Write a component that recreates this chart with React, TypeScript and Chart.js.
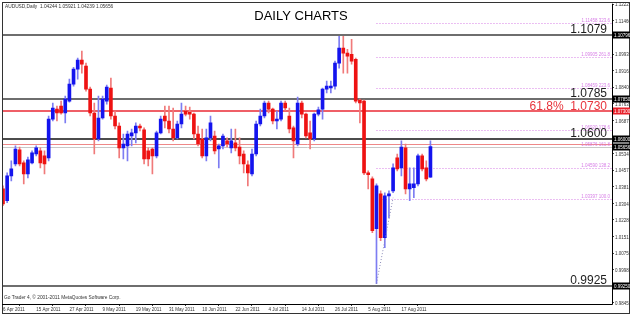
import React, { useEffect, useRef } from 'react';
import { Chart, registerables } from 'chart.js';

Chart.register(...registerables);

// ---------- data ----------
const opens = [
  1.0371, 1.0316, 1.0431, 1.0486, 1.0551, 1.0491, 1.0440, 1.0491, 1.0532, 1.0546,
  1.0523, 1.0514, 1.0693, 1.0739, 1.0753, 1.0721, 1.0776, 1.0854, 1.0923, 1.0965,
  1.0937, 1.0831, 1.0721, 1.0601, 1.0698, 1.0776, 1.0836, 1.0707, 1.0661, 1.0560,
  1.0569, 1.0615, 1.0629, 1.0661, 1.0643, 1.0546, 1.0555, 1.0523, 1.0629, 1.0707,
  1.0684, 1.0647, 1.0606, 1.0670, 1.0730, 1.0724, 1.0716, 1.0624, 1.0601, 1.0523,
  1.0606, 1.0615, 1.0555, 1.0569, 1.0592, 1.0560, 1.0583, 1.0564, 1.0532, 1.0482,
  1.0440, 1.0532, 1.0670, 1.0707, 1.0767, 1.0739, 1.0684, 1.0693, 1.0767, 1.0707,
  1.0652, 1.0578, 1.0767, 1.0716, 1.0629, 1.0601, 1.0716, 1.0739, 1.0831, 1.0836,
  1.0845, 1.0951, 1.1020, 1.0997, 1.0992, 1.0969, 1.0781, 1.0776, 1.0445, 1.0417,
  1.0187, 1.0348, 1.0146, 1.0339, 1.0362, 1.0514, 1.0468, 1.0560, 1.0371, 1.0376,
  1.0394, 1.0523, 1.0468, 1.04244,
];
const highs = [
  1.0385, 1.0445, 1.0500, 1.0569, 1.0564, 1.0500, 1.0518, 1.0546, 1.0569, 1.0560,
  1.0546, 1.0707, 1.0767, 1.0753, 1.0776, 1.0799, 1.0877, 1.0932, 1.0974, 1.1006,
  1.0951, 1.0840, 1.0767, 1.0799, 1.0799, 1.0850, 1.0882, 1.0730, 1.0675, 1.0624,
  1.0638, 1.0647, 1.0675, 1.0670, 1.0652, 1.0560, 1.0560, 1.0638, 1.0707, 1.0753,
  1.0753, 1.0744, 1.0684, 1.0767, 1.0753, 1.0748, 1.0721, 1.0661, 1.0647, 1.0647,
  1.0707, 1.0638, 1.0578, 1.0624, 1.0606, 1.0647, 1.0647, 1.0606, 1.0546, 1.0500,
  1.0555, 1.0684, 1.0739, 1.0776, 1.0776, 1.0744, 1.0730, 1.0776, 1.0776, 1.0744,
  1.0661, 1.0794, 1.0776, 1.0721, 1.0684, 1.0721, 1.0748, 1.0836, 1.0868, 1.0868,
  1.0960, 1.1075, 1.1075, 1.1015, 1.1061, 1.0974, 1.0785, 1.0781, 1.0454, 1.0426,
  1.0394, 1.0362, 1.0353, 1.0362, 1.0486, 1.0532, 1.0592, 1.0578, 1.0468, 1.0468,
  1.0532, 1.0532, 1.0500, 1.05921,
];
const lows = [
  1.0293, 1.0307, 1.0408, 1.0477, 1.0477, 1.0394, 1.0422, 1.0486, 1.0523, 1.0468,
  1.0440, 1.0500, 1.0684, 1.0684, 1.0716, 1.0675, 1.0771, 1.0845, 1.0877, 1.0905,
  1.0822, 1.0707, 1.0532, 1.0592, 1.0693, 1.0762, 1.0693, 1.0647, 1.0514, 1.0509,
  1.0500, 1.0569, 1.0583, 1.0638, 1.0486, 1.0477, 1.0440, 1.0514, 1.0624, 1.0652,
  1.0629, 1.0592, 1.0601, 1.0652, 1.0707, 1.0693, 1.0601, 1.0569, 1.0514, 1.0500,
  1.0592, 1.0532, 1.0468, 1.0555, 1.0564, 1.0537, 1.0546, 1.0486, 1.0445, 1.0385,
  1.0431, 1.0523, 1.0661, 1.0698, 1.0721, 1.0670, 1.0647, 1.0684, 1.0730, 1.0629,
  1.0514, 1.0569, 1.0698, 1.0606, 1.0555, 1.0592, 1.0707, 1.0693, 1.0813, 1.0813,
  1.0831, 1.0928, 1.0905, 1.0905, 1.0946, 1.0767, 1.0675, 1.0436, 1.0371, 1.0169,
  0.9934, 1.0132, 1.0100, 1.0238, 1.0353, 1.0454, 1.0431, 1.0348, 1.0316, 1.0330,
  1.0385, 1.0454, 1.0408, 1.04239,
];
const closes = [
  1.0302, 1.0431, 1.0463, 1.0555, 1.0486, 1.0440, 1.0505, 1.0537, 1.0560, 1.0491,
  1.0486, 1.0693, 1.0744, 1.0721, 1.0721, 1.0785, 1.0854, 1.0923, 1.0965, 1.0946,
  1.0831, 1.0721, 1.0601, 1.0698, 1.0785, 1.0840, 1.0707, 1.0661, 1.0560, 1.0578,
  1.0624, 1.0629, 1.0661, 1.0652, 1.0509, 1.0509, 1.0523, 1.0629, 1.0693, 1.0684,
  1.0647, 1.0606, 1.0670, 1.0716, 1.0716, 1.0716, 1.0624, 1.0578, 1.0523, 1.0606,
  1.0675, 1.0546, 1.0569, 1.0615, 1.0578, 1.0592, 1.0560, 1.0523, 1.0486, 1.0445,
  1.0532, 1.0670, 1.0707, 1.0767, 1.0739, 1.0684, 1.0693, 1.0767, 1.0744, 1.0647,
  1.0592, 1.0767, 1.0716, 1.0615, 1.0601, 1.0716, 1.0735, 1.0831, 1.0845, 1.0845,
  1.0951, 1.1020, 1.0997, 1.0983, 1.0960, 1.0776, 1.0767, 1.0445, 1.0436, 1.0178,
  1.0385, 1.0146, 1.0339, 1.0348, 1.0468, 1.0463, 1.0564, 1.0371, 1.0394, 1.0394,
  1.0523, 1.0463, 1.0417, 1.05656,
];

const xTickLabels = [
  '6 Apr 2011', '15 Apr 2011', '27 Apr 2011', '9 May 2011', '19 May 2011', '31 May 2011',
  '10 Jun 2011', '22 Jun 2011', '4 Jul 2011', '14 Jul 2011', '26 Jul 2011', '5 Aug 2011', '17 Aug 2011',
];
const barsPerXTick = 8;
const xRange = [0, 146.75];

const yTickValues = [
  1.12225, 1.1146, 1.0993, 1.09165, 1.084, 1.07635, 1.0687, 1.0534, 1.04575, 1.0381,
  1.03045, 1.0228, 1.01515, 1.0075, 0.99985, 0.98455,
];
const yRange = [0.984, 1.1225];

const grayLevels = [1.1079, 1.0785, 0.9925];
const grayCaptions = ['1.1079', '1.0785', '0.9925'];
const blackLevels = [1.06];
const blackCaptions = ['1.0600'];
const redLevels = [1.073];
const redCaptions = ['61.8%  1.0730'];
const redThinLevels = [1.0577];
const bidPrice = 1.05656;

const fibPrices = [1.1135, 1.0978, 1.0836, 1.0644, 1.0566, 1.0469, 1.0325];
const fibCaptions = [
  '1.11458 323.6', '1.09905 261.8', '1.08459 223.6', '1.06920 178.6',
  '1.05876 161.8', '1.04590 138.2', '1.03397 100.0',
];
const fibAnchorIndex = [90, 94];
const fibAnchorPrice = [0.9934, 1.033];

const tagValues = [1.10796, 1.0785, 1.073, 1.06, 1.05656, 0.9925];
const tagTexts = ['1.10796', '1.07850', '1.07300', '1.06000', '1.05656', '0.99250'];
const tagIsRed = [false, false, true, false, false, false];

const titleText = 'DAILY CHARTS';
const symbolCaption = 'AUDUSD,Daily  1.04244 1.05921 1.04239 1.05656';
const footerCaption = 'Go Trader 4, \u00a9 2001-2011 MetaQuotes Software Corp.';

// ---------- styles ----------
const FONT = '"Liberation Sans", Arial, sans-serif';
const UP_BODY = '#1414ee';
const DN_BODY = '#ee1212';
const UP_WICK = '#7d7df2';
const DN_WICK = '#f07a7a';

export default function App() {
  const ref = useRef<HTMLCanvasElement | null>(null);

  useEffect(() => {
    document.body.style.margin = '0';
    const canvas = ref.current;
    if (!canvas) return;
    const idx = opens.map((_, i) => i);
    const up = idx.map((i) => closes[i] >= opens[i]);

    const overlay = {
      id: 'overlay',
      beforeDatasetsDraw(chart: any) {
        const { ctx, chartArea: a, scales } = chart;
        const ys = scales.y;
        const xs = scales.x;
        const py = (v: number) => Math.round(ys.getPixelForValue(v));
        ctx.save();
        ctx.beginPath();
        ctx.rect(a.left, a.top, a.right - a.left, a.bottom - a.top);
        ctx.clip();
        // fib dotted levels
        const fx = xs.getPixelForValue(fibAnchorIndex[0]);
        ctx.setLineDash([1, 2]);
        ctx.strokeStyle = '#d77ee6';
        ctx.lineWidth = 1;
        fibPrices.forEach((v) => {
          const y = py(v) + 0.5;
          ctx.beginPath();
          ctx.moveTo(fx, y);
          ctx.lineTo(a.right, y);
          ctx.stroke();
        });
        ctx.setLineDash([]);
        // bid line
        ctx.strokeStyle = '#c8c8c8';
        ctx.beginPath();
        ctx.moveTo(a.left, py(bidPrice) + 0.5);
        ctx.lineTo(a.right, py(bidPrice) + 0.5);
        ctx.stroke();
        // red thin
        ctx.strokeStyle = '#ee8888';
        redThinLevels.forEach((v) => {
          ctx.beginPath();
          ctx.moveTo(a.left, py(v) + 0.5);
          ctx.lineTo(a.right, py(v) + 0.5);
          ctx.stroke();
        });
        // gray thick
        ctx.strokeStyle = '#6e6e6e';
        ctx.lineWidth = 2;
        grayLevels.forEach((v) => {
          ctx.beginPath();
          ctx.moveTo(a.left, py(v));
          ctx.lineTo(a.right, py(v));
          ctx.stroke();
        });
        ctx.strokeStyle = '#111111';
        ctx.lineWidth = 1.5;
        blackLevels.forEach((v) => {
          ctx.beginPath();
          ctx.moveTo(a.left, py(v));
          ctx.lineTo(a.right, py(v));
          ctx.stroke();
        });
        ctx.strokeStyle = '#ea2a35';
        ctx.lineWidth = 1.5;
        redLevels.forEach((v) => {
          ctx.beginPath();
          ctx.moveTo(a.left, py(v));
          ctx.lineTo(a.right, py(v));
          ctx.stroke();
        });
        ctx.restore();
      },
      afterDraw(chart: any) {
        const { ctx, chartArea: a, scales } = chart;
        const ys = scales.y;
        const py = (v: number) => Math.round(ys.getPixelForValue(v));
        ctx.save();
        // frames
        ctx.strokeStyle = '#333333';
        ctx.lineWidth = 1;
        ctx.strokeRect(2.5, 2.5, 627, 311);
        ctx.strokeStyle = '#000000';
        ctx.beginPath();
        ctx.moveTo(a.right + 0.5, a.top);
        ctx.lineTo(a.right + 0.5, a.bottom + 0.5);
        ctx.lineTo(a.left - 1, a.bottom + 0.5);
        ctx.stroke();

        // fib captions
        ctx.font = `4.5px ${FONT}`;
        ctx.fillStyle = '#d77ee6';
        ctx.textAlign = 'right';
        ctx.textBaseline = 'alphabetic';
        fibPrices.forEach((v, i) => {
          ctx.fillText(fibCaptions[i], a.right - 2, py(v) - 1);
        });

        // level captions
        ctx.font = `12px ${FONT}`;
        ctx.fillStyle = '#1e1e1e';
        grayLevels.forEach((v, i) => ctx.fillText(grayCaptions[i], a.right - 5, py(v) - 2));
        blackLevels.forEach((v, i) => ctx.fillText(blackCaptions[i], a.right - 5, py(v) - 2));
        ctx.fillStyle = '#e8343c';
        redLevels.forEach((v, i) => ctx.fillText(redCaptions[i], a.right - 5, py(v) - 1));

        // price tags
        ctx.font = `4.5px ${FONT}`;
        ctx.textAlign = 'left';
        ctx.textBaseline = 'middle';
        tagValues.forEach((v, i) => {
          const y = py(v);
          ctx.fillStyle = tagIsRed[i] ? '#e8202a' : '#000000';
          ctx.fillRect(a.right + 1, y - 3.5, 18, 7);
          ctx.fillStyle = '#ffffff';
          ctx.fillText(tagTexts[i], a.right + 2, y + 0.5);
        });

        // title and captions
        ctx.fillStyle = '#000000';
        ctx.textAlign = 'center';
        ctx.textBaseline = 'alphabetic';
        ctx.font = `13px ${FONT}`;
        ctx.fillText(titleText, 301, 20);
        ctx.textAlign = 'left';
        ctx.font = `4.8px ${FONT}`;
        ctx.fillStyle = '#333333';
        ctx.fillText(symbolCaption, 5, 8);
        ctx.fillText(footerCaption, 4, 299);
        ctx.restore();
      },
    };

    const chart = new Chart(canvas, {
      type: 'bar',
      data: {
        datasets: [
          {
            type: 'bar',
            data: idx.map((i) => ({ x: i, y: [lows[i], highs[i]] })) as any,
            backgroundColor: idx.map((i) => (up[i] ? UP_WICK : DN_WICK)),
            barThickness: 1,
            grouped: false,
            order: 3,
          } as any,
          {
            type: 'bar',
            data: idx.map((i) => ({ x: i, y: [opens[i], closes[i]] })) as any,
            backgroundColor: idx.map((i) => (up[i] ? UP_BODY : DN_BODY)),
            barThickness: 3,
            minBarLength: 1,
            grouped: false,
            order: 2,
          } as any,
          {
            type: 'line',
            data: fibAnchorIndex.map((x, k) => ({ x, y: fibAnchorPrice[k] })) as any,
            borderColor: '#8a8ab8',
            borderWidth: 1,
            borderDash: [1, 2],
            pointRadius: 0,
            order: 1,
          } as any,
        ],
      },
      options: {
        animation: false,
        responsive: false,
        devicePixelRatio: 1,
        layout: { padding: { left: 3, top: 3, right: 0, bottom: 0 } },
        plugins: { legend: { display: false }, tooltip: { enabled: false }, title: { display: false } },
        scales: {
          x: {
            type: 'linear',
            min: xRange[0],
            max: xRange[1],
            offset: false,
            afterFit: (s: any) => {
              s.height = 11;
            },
            afterBuildTicks: (s: any) => {
              s.ticks = xTickLabels.map((_, k) => ({ value: k * barsPerXTick }));
            },
            grid: { drawOnChartArea: false, tickLength: 2, color: '#333333' },
            border: { display: false },
            ticks: {
              autoSkip: false,
              maxRotation: 0,
              align: 'start',
              padding: 1,
              color: '#333333',
              font: { family: FONT, size: 4.5 },
              callback: (_v: any, i: number) => xTickLabels[i],
            },
          },
          y: {
            type: 'linear',
            position: 'right',
            min: yRange[0],
            max: yRange[1],
            afterFit: (s: any) => {
              s.width = 18;
            },
            afterBuildTicks: (s: any) => {
              s.ticks = yTickValues.map((v) => ({ value: v }));
            },
            grid: { drawOnChartArea: false, tickLength: 2, color: '#444444' },
            border: { display: false },
            ticks: {
              autoSkip: false,
              padding: 1,
              labelOffset: 1,
              color: '#333333',
              font: { family: FONT, size: 4.5 },
              callback: (v: any) => Number(v).toFixed(5),
            },
          },
        },
      },
      plugins: [overlay],
    } as any);

    return () => chart.destroy();
  }, []);

  return (
    <div style={{ width: 630, height: 315, background: '#ffffff' }}>
      <canvas ref={ref} width={630} height={315} style={{ display: 'block', width: 630, height: 315 }} />
    </div>
  );
}
